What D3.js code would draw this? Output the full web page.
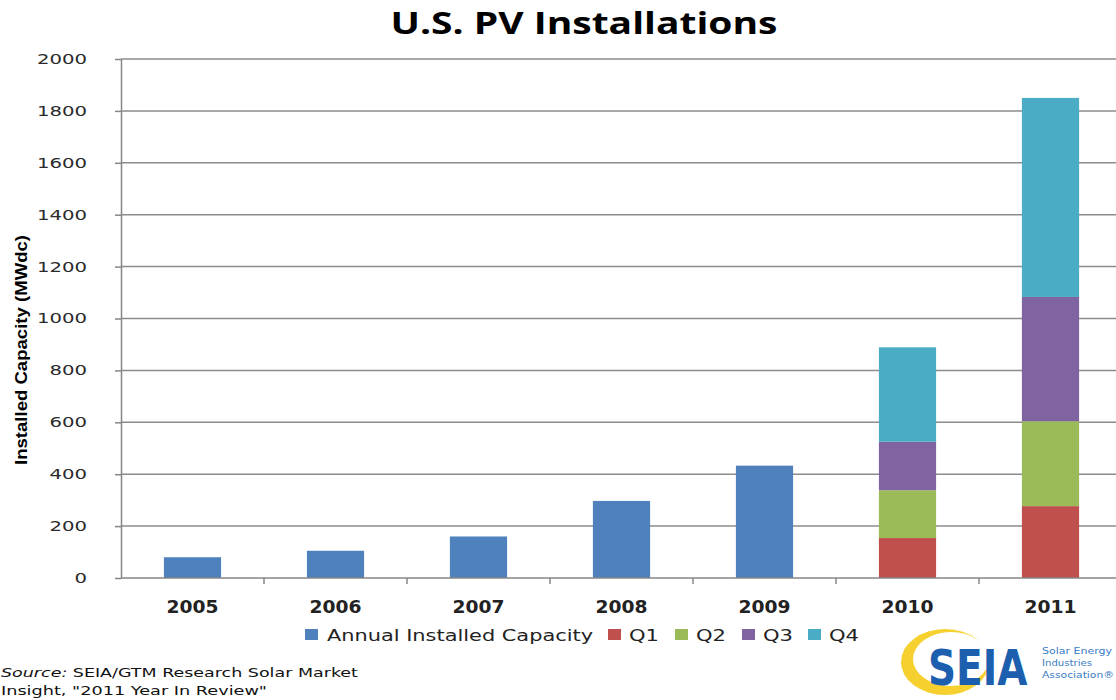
<!DOCTYPE html>
<html>
<head>
<meta charset="utf-8">
<script src="https://cdn.jsdelivr.net/npm/d3@7"></script>
<style>
  body { margin: 0; background: #fff; }
  svg { display: block; }
</style>
</head>
<body>
<div id="chart"></div>
<script>
const years = ['2005', '2006', '2007', '2008', '2009', '2010', '2011'];
const annual = [80, 105, 160, 297, 433, null, null];
const quarterKeys = ['Q1', 'Q2', 'Q3', 'Q4'];
const q1 = [null, null, null, null, null, 154, 277];
const q2 = [null, null, null, null, null, 184, 327];
const q3 = [null, null, null, null, null, 187, 479];
const q4 = [null, null, null, null, null, 364, 767];
const yTicks = [0, 200, 400, 600, 800, 1000, 1200, 1400, 1600, 1800, 2000];
const legendLabels = ['Annual Installed Capacity', 'Q1', 'Q2', 'Q3', 'Q4'];

const colors = {
  annual: '#4F81BD', Q1: '#C0504D', Q2: '#9BBB59', Q3: '#8064A2', Q4: '#4BACC6',
};

const width = 1116;
const height = 700;
const margin = { top: 59, right: -6, bottom: 122, left: 121 };
const innerW = width - margin.left - margin.right;
const innerH = height - margin.top - margin.bottom;
const verdana = 'DejaVu Sans, Verdana, sans-serif';

const svg = d3.select('#chart').append('svg')
  .attr('width', width)
  .attr('height', height);

const xScale = d3.scaleBand()
  .domain(years)
  .range([0, innerW])
  .paddingInner(0.6)
  .paddingOuter(0.3);

const yScale = d3.scaleLinear()
  .domain([0, 2000])
  .range([innerH, 0]);

// title
svg.append('text')
  .attr('x', 584)
  .attr('y', 34)
  .attr('text-anchor', 'middle')
  .attr('font-family', 'Open Sans, sans-serif')
  .attr('font-weight', 'bold')
  .attr('font-size', 31)
  .attr('textLength', 387)
  .attr('lengthAdjust', 'spacingAndGlyphs')
  .attr('fill', '#000')
  .text('U.S. PV Installations');

const g = svg.append('g')
  .attr('transform', `translate(${margin.left},${margin.top})`);

// gridlines
g.append('g')
  .selectAll('line')
  .data(yTicks.filter(t => t > 0))
  .enter().append('line')
  .attr('x1', 0)
  .attr('x2', innerW)
  .attr('y1', d => yScale(d))
  .attr('y2', d => yScale(d))
  .attr('stroke', '#8c8c8c')
  .attr('stroke-width', 1.5);

// bars: annual
g.append('g')
  .selectAll('rect')
  .data(years.map((y, i) => ({ year: y, v: annual[i] })).filter(d => d.v != null))
  .enter().append('rect')
  .attr('x', d => xScale(d.year))
  .attr('width', xScale.bandwidth())
  .attr('y', d => yScale(d.v))
  .attr('height', d => innerH - yScale(d.v))
  .attr('fill', colors.annual);

// bars: quarterly stacks
const qRows = years.map((y, i) => ({
  year: y, Q1: q1[i] || 0, Q2: q2[i] || 0, Q3: q3[i] || 0, Q4: q4[i] || 0,
})).filter((d, i) => q1[i] != null);

const stack = d3.stack().keys(quarterKeys)(qRows);

g.append('g')
  .selectAll('g')
  .data(stack)
  .enter().append('g')
  .attr('fill', d => colors[d.key])
  .selectAll('rect')
  .data(d => d)
  .enter().append('rect')
  .attr('x', d => xScale(d.data.year))
  .attr('width', xScale.bandwidth())
  .attr('y', d => yScale(d[1]))
  .attr('height', d => yScale(d[0]) - yScale(d[1]));

// y axis
const yAxis = d3.axisLeft(yScale)
  .tickValues(yTicks)
  .tickFormat(d3.format('d'))
  .tickSize(6)
  .tickPadding(28)
  .tickSizeOuter(0);

const yg = g.append('g').call(yAxis);
yg.select('.domain').attr('stroke', '#868686').attr('stroke-width', 1.5);
yg.selectAll('.tick line').attr('stroke', '#868686').attr('stroke-width', 1.5);
yg.selectAll('.tick text')
  .attr('font-family', verdana)
  .attr('font-size', 14)
  .attr('fill', '#2a2a2a')
  .attr('textLength', d => String(d).length * 12.5)
  .attr('lengthAdjust', 'spacingAndGlyphs');

// x axis
const xg = g.append('g').attr('transform', `translate(0,${innerH})`);
xg.append('line')
  .attr('x1', 0).attr('x2', innerW)
  .attr('stroke', '#868686').attr('stroke-width', 1.5);
const step = xScale.step();
xg.selectAll('.sep')
  .data(years.slice(1))
  .enter().append('line')
  .attr('class', 'sep')
  .attr('x1', d => xScale(d) - step * 0.3)
  .attr('x2', d => xScale(d) - step * 0.3)
  .attr('y1', 0).attr('y2', 6)
  .attr('stroke', '#868686').attr('stroke-width', 1.5);
xg.selectAll('.lbl')
  .data(years)
  .enter().append('text')
  .attr('class', 'lbl')
  .attr('x', d => xScale(d) + xScale.bandwidth() / 2)
  .attr('y', 35)
  .attr('text-anchor', 'middle')
  .attr('font-family', verdana)
  .attr('font-weight', 'bold')
  .attr('font-size', 17)
  .attr('textLength', 52)
  .attr('lengthAdjust', 'spacingAndGlyphs')
  .attr('fill', '#222')
  .text(d => d);

// y label
svg.append('text')
  .attr('transform', 'translate(27,350) rotate(-90)')
  .attr('text-anchor', 'middle')
  .attr('font-family', 'Liberation Sans Narrow, Arial Narrow, sans-serif')
  .attr('font-weight', 'bold')
  .attr('font-size', 17)
  .attr('textLength', 230)
  .attr('lengthAdjust', 'spacingAndGlyphs')
  .attr('fill', '#000')
  .text('Installed Capacity (MWdc)');

// legend
const legendX = [305, 608, 675, 742, 808];
const legendW = [266, 30, 30, 30, 30];
const legendColors = [colors.annual, colors.Q1, colors.Q2, colors.Q3, colors.Q4];
const legend = svg.append('g').attr('transform', 'translate(0,635)');
const items = legend.selectAll('g')
  .data(legendLabels)
  .enter().append('g')
  .attr('transform', (d, i) => `translate(${legendX[i]},0)`);
items.append('rect')
  .attr('x', 0).attr('y', -6)
  .attr('width', 13).attr('height', 11)
  .attr('fill', (d, i) => legendColors[i]);
items.append('text')
  .attr('x', (d, i) => (i === 0 ? 22 : 21)).attr('y', 6)
  .attr('font-family', verdana)
  .attr('font-size', 16)
  .attr('textLength', (d, i) => legendW[i])
  .attr('lengthAdjust', 'spacingAndGlyphs')
  .attr('fill', '#222')
  .text(d => d);

// source note
const src = svg.append('text')
  .attr('x', 1).attr('y', 677)
  .attr('font-family', verdana)
  .attr('font-size', 13)
  .attr('textLength', 357)
  .attr('lengthAdjust', 'spacingAndGlyphs')
  .attr('fill', '#111');
src.append('tspan').attr('font-style', 'italic').text('Source:');
src.append('tspan').text(' SEIA/GTM Research Solar Market');
svg.append('text')
  .attr('x', 1).attr('y', 695)
  .attr('font-family', verdana)
  .attr('font-size', 13)
  .attr('textLength', 266)
  .attr('lengthAdjust', 'spacingAndGlyphs')
  .attr('fill', '#111')
  .text('Insight, "2011 Year In Review"');

// SEIA logo
const logo = svg.append('g');
logo.append('ellipse')
  .attr('cx', 945).attr('cy', 662)
  .attr('rx', 44).attr('ry', 33)
  .attr('fill', '#F6D02F');
logo.append('ellipse')
  .attr('cx', 951).attr('cy', 659)
  .attr('rx', 38).attr('ry', 27)
  .attr('fill', '#fff');
logo.append('text')
  .attr('transform', 'translate(928,685) scale(0.78,1)')
  .attr('font-family', verdana)
  .attr('font-weight', 'bold')
  .attr('font-size', 50)
  .attr('fill', '#1C5FAF')
  .text('SEIA');
['Solar Energy', 'Industries', 'Association®'].forEach((t, i) => {
  logo.append('text')
    .attr('x', 1042).attr('y', 654 + i * 12)
    .attr('font-family', verdana)
    .attr('font-size', 8)
    .attr('fill', '#3A7CC4')
    .attr('textLength', [70, 50, 72][i])
    .attr('lengthAdjust', 'spacingAndGlyphs')
    .text(t);
});
</script>
</body>
</html>
